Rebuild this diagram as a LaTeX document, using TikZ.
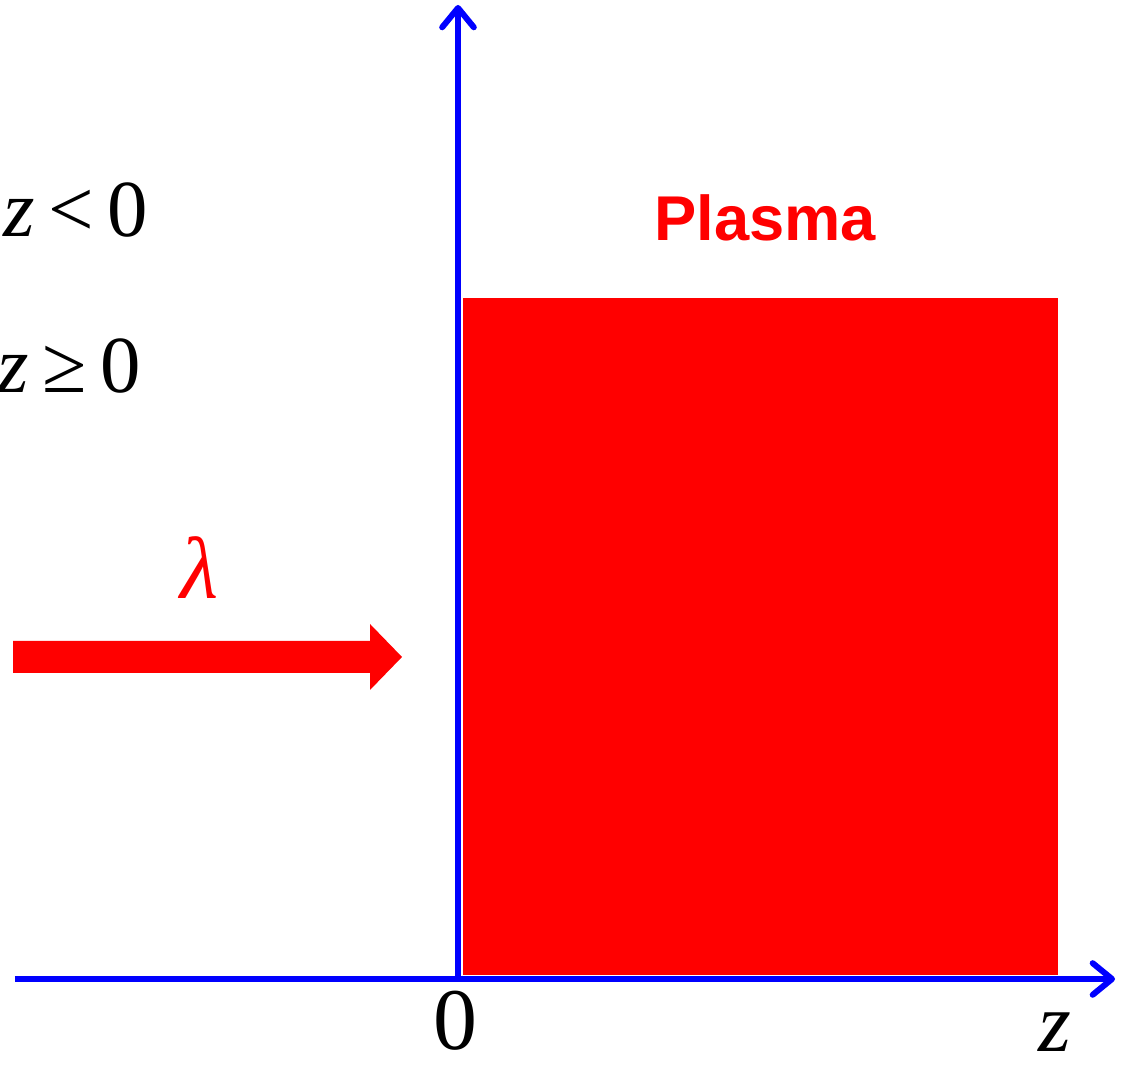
\documentclass[tikz,border=0pt]{standalone}
\usepackage{amsmath, amssymb}
\usepackage{fontspec}
\newfontfamily\labelfont{Liberation Sans}
\newfontfamily\lblserif{Liberation Serif}
\usetikzlibrary{arrows.meta, positioning}

\begin{document}
\begin{tikzpicture}[
                axis/.style={blue, line width=1.7pt, -{Straight Barb[round, length=5.5pt, width=9pt]}},
                slab/.style={fill=red, draw=none},
                beam/.style={fill=red, draw=none},
                mathlbl/.style={inner sep=0pt, font=\lblserif\fontsize{23}{27}\selectfont},
                ticklbl/.style={inner sep=0pt, font=\lblserif\fontsize{25}{29}\selectfont},
                every node/.style={inner sep=0pt}
            ]
                \useasboundingbox (0,0) rectangle (11.23,10.66);

                \coordinate (o) at (4.58,0.87);
                \coordinate (zstart) at (0.15,0.87);
                \coordinate (zend) at (11.15,0.87);
                \coordinate (ybot) at (4.58,0.84);
                \coordinate (ytop) at (4.58,10.61);

                \fill[slab] (4.63,0.91) rectangle (10.58,7.68);
                \fill[beam] (0.13,4.25) -- (3.70,4.25) -- (3.70,4.42) -- (4.02,4.09)
                    -- (3.70,3.76) -- (3.70,3.93) -- (0.13,3.93) -- cycle;

                \draw[axis] (zstart) -- (zend);
                \draw[axis] (ybot) -- (ytop);

                \node[font=\labelfont\bfseries\fontsize{18}{22}\selectfont, text=red] (plasma) at (7.65,8.48) {Plasma};
                \node[mathlbl, anchor=base west] (zneg) at (0.03,8.29) {\textit{z}\,<\,0};
                \node[mathlbl, anchor=base west] (zpos) at (-0.03,6.73) {\textit{z}\,≥\,0};
                \node[mathlbl, text=red, font=\lblserif\itshape\fontsize{25}{29}\selectfont] (lam) at (2.0,4.98) {λ};
                \node[ticklbl, anchor=base] (zero) at (4.55,0.16) {0};
                \node[ticklbl, anchor=base, font=\lblserif\itshape\fontsize{24}{28}\selectfont] (zlbl) at (10.55,0.14) {z};
            \end{tikzpicture}
\end{document}
